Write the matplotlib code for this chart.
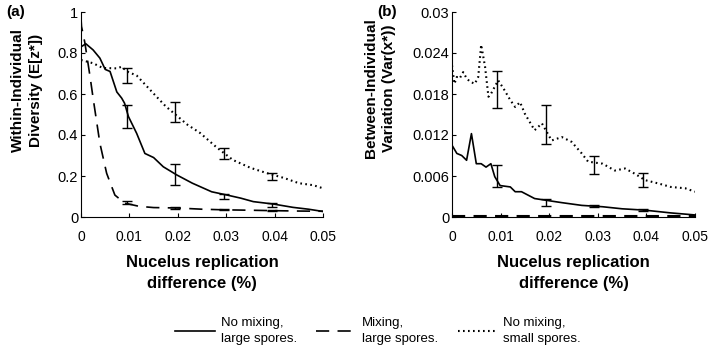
import matplotlib
matplotlib.use('Agg')
import matplotlib.pyplot as plt
from matplotlib.lines import Line2D

plt.rcParams['font.family'] = ['Liberation Sans', 'DejaVu Sans']
plt.rcParams['lines.scale_dashes'] = False

# panel (a) - within-individual diversity
xa_solid = [0, 0.001, 0.0025, 0.0039, 0.005, 0.006, 0.0067, 0.0074, 0.0084, 0.009, 0.0098,
            0.0115, 0.0132, 0.015, 0.017, 0.0198, 0.023, 0.027, 0.03, 0.033, 0.0356,
            0.0398, 0.0438, 0.047, 0.05]
ya_solid = [0.83, 0.845, 0.815, 0.775, 0.72, 0.71, 0.66, 0.61, 0.58, 0.555, 0.49,
            0.408, 0.31, 0.29, 0.245, 0.205, 0.165, 0.123, 0.108, 0.092, 0.075,
            0.063, 0.047, 0.038, 0.027]
xa_dash = [0, 0.0001, 0.0008, 0.0019, 0.0025, 0.0039, 0.0053, 0.007, 0.009, 0.012, 0.015,
           0.0198, 0.025, 0.0295, 0.035, 0.0395, 0.045, 0.05]
ya_dash = [0.97, 0.93, 0.85, 0.68, 0.58, 0.36, 0.213, 0.107, 0.068, 0.052, 0.046,
           0.044, 0.038, 0.035, 0.033, 0.031, 0.029, 0.028]
xa_dot = [0, 0.0025, 0.0045, 0.0074, 0.0084, 0.0095, 0.0115, 0.0135, 0.0156, 0.0175,
          0.0195, 0.022, 0.0246, 0.028, 0.0314, 0.035, 0.0384, 0.042, 0.045, 0.048, 0.05]
ya_dot = [0.766, 0.75, 0.727, 0.725, 0.733, 0.71, 0.69, 0.64, 0.587, 0.54,
          0.5, 0.45, 0.41, 0.34, 0.278, 0.24, 0.214, 0.19, 0.165, 0.155, 0.14]

xa_err = [0.0095, 0.0195, 0.0295, 0.0395]
ya_solid_err = [0.49, 0.2065, 0.099, 0.06]
ea_solid_err = [0.058, 0.05, 0.013, 0.01]
ya_dash_err = [0.07, 0.045, 0.036, 0.031]
ea_dash_err = [0.007, 0.004, 0.003, 0.003]
ya_dot_err = [0.69, 0.512, 0.31, 0.198]
ea_dot_err = [0.038, 0.05, 0.029, 0.018]

# panel (b) - between-individual variation
xb_solid = [0, 0.001, 0.002, 0.003, 0.004, 0.005, 0.006, 0.007, 0.008, 0.0088, 0.0099,
            0.012, 0.013, 0.0143, 0.017, 0.0198, 0.0226, 0.0267, 0.031, 0.035, 0.0397,
            0.045, 0.05]
yb_solid = [0.0105, 0.0093, 0.009, 0.0083, 0.0122, 0.0078, 0.0078, 0.0073, 0.0078, 0.0059,
            0.0046, 0.0044, 0.0037, 0.0037, 0.0027, 0.0024, 0.0021, 0.0017, 0.0015, 0.0012,
            0.001, 0.0006, 0.0003]
xb_dash = [0, 0.01, 0.02, 0.03, 0.04, 0.05]
yb_dash = [0.0001, 0.0001, 0.0001, 0.0001, 0.0001, 0.0001]
xb_dot = [0, 0.0005, 0.001, 0.0016, 0.0023, 0.003, 0.0037, 0.0047, 0.0054, 0.006, 0.0068,
          0.0075, 0.008, 0.0095, 0.0106, 0.012, 0.013, 0.014, 0.015, 0.017, 0.0185,
          0.0205, 0.0226, 0.0246, 0.0267, 0.028, 0.031, 0.0335, 0.0356, 0.0377, 0.0397,
          0.0425, 0.045, 0.048, 0.05]
yb_dot = [0.0222, 0.0195, 0.0205, 0.0203, 0.0212, 0.0203, 0.0198, 0.0195, 0.0205, 0.0252, 0.022,
          0.0176, 0.018, 0.02, 0.0188, 0.0171, 0.0161, 0.0168, 0.0151, 0.0127, 0.0137,
          0.0112, 0.0117, 0.011, 0.0093, 0.0081, 0.0078, 0.0068, 0.0071, 0.0063, 0.0054,
          0.0049, 0.0044, 0.0042, 0.0037]

xb_err = [0.0093, 0.0193, 0.0293, 0.0394]
yb_solid_err = [0.006, 0.00215, 0.00155, 0.001]
eb_solid_err = [0.0016, 0.00055, 0.00015, 0.0001]
yb_dot_err = [0.0186, 0.01355, 0.0076, 0.0054]
eb_dot_err = [0.0027, 0.00285, 0.0013, 0.001]

x_ticks = [0, 0.01, 0.02, 0.03, 0.04, 0.05]
x_labels = ['0', '0.01', '0.02', '0.03', '0.04', '0.05']
ya_ticks = [0, 0.2, 0.4, 0.6, 0.8, 1]
ya_labels = ['0', '0.2', '0.4', '0.6', '0.8', '1']
yb_ticks = [0, 0.006, 0.012, 0.018, 0.024, 0.03]
yb_labels = ['0', '0.006', '0.012', '0.018', '0.024', '0.03']

legend_labels = ['No mixing,\nlarge spores.', 'Mixing,\nlarge spores.', 'No mixing,\nsmall spores.']

W, H = 709, 348
fig = plt.figure(figsize=(W / 100, H / 100), dpi=100)

dash_style = (9.5, 6)
dot_style = (1.2, 2.4)
lw = 1.2


def style_axes(ax, yticks, ylabels):
    ax.set_xlim(0, 0.05)
    ax.set_ylim(yticks[0], yticks[-1])
    for s in ['top', 'right']:
        ax.spines[s].set_visible(False)
    for s in ['left', 'bottom']:
        ax.spines[s].set_linewidth(0.8)
    ax.set_xticks(x_ticks)
    ax.set_xticklabels(x_labels, fontsize=10)
    ax.set_yticks(yticks)
    ax.set_yticklabels(ylabels, fontsize=10.5)
    ax.tick_params(axis='both', direction='in', length=3, width=0.8)
    ax.tick_params(axis='x', pad=9)
    ax.tick_params(axis='y', pad=2)
    ax.set_xlabel('Nucelus replication\ndifference (%)', fontsize=12, fontweight='bold',
                  labelpad=8, linespacing=1.5)


def draw_err(ax, x, y, e):
    ax.errorbar(x, y, yerr=e, fmt='none', ecolor='black', elinewidth=1.0,
                capsize=3.5, capthick=1.0)


ax1 = fig.add_axes([81 / W, 1 - 217 / H, 242 / W, 205 / H])
ax1.plot(xa_solid, ya_solid, color='black', lw=lw)
ax1.plot(xa_dash, ya_dash, color='black', lw=lw, dashes=dash_style)
ax1.plot(xa_dot, ya_dot, color='black', lw=lw + 0.3, dashes=dot_style)
draw_err(ax1, xa_err, ya_solid_err, ea_solid_err)
draw_err(ax1, xa_err, ya_dash_err, ea_dash_err)
draw_err(ax1, xa_err, ya_dot_err, ea_dot_err)
style_axes(ax1, ya_ticks, ya_labels)

ax2 = fig.add_axes([452 / W, 1 - 217 / H, 243 / W, 205 / H])
ax2.plot(xb_solid, yb_solid, color='black', lw=lw)
ax2.plot(xb_dash, yb_dash, color='black', lw=lw + 0.3, dashes=dash_style)
ax2.plot(xb_dot, yb_dot, color='black', lw=lw + 0.3, dashes=dot_style)
draw_err(ax2, xb_err, yb_solid_err, eb_solid_err)
draw_err(ax2, xb_err, yb_dot_err, eb_dot_err)
style_axes(ax2, yb_ticks, yb_labels)

fig.text(27 / W, 1 - 90 / H, 'Within-Individual\nDiversity (E[z*])', rotation=90,
         ha='center', va='center', fontsize=11, fontweight='bold', linespacing=1.3)
fig.text(380 / W, 1 - 88 / H, 'Between-Individual\nVariation (Var(x*))', rotation=90,
         ha='center', va='center', fontsize=11, fontweight='bold', linespacing=1.3)
fig.text(16 / W, 1 - 12 / H, '(a)', ha='center', va='center', fontsize=11, fontweight='bold')
fig.text(387 / W, 1 - 12 / H, '(b)', ha='center', va='center', fontsize=11, fontweight='bold')

handles = [Line2D([], [], color='black', lw=lw),
           Line2D([], [], color='black', lw=lw, dashes=dash_style),
           Line2D([], [], color='black', lw=lw + 0.3, dashes=dot_style)]
leg = fig.legend(handles, legend_labels, ncol=3, loc='center',
                 bbox_to_anchor=(378 / W, 1 - 331 / H), frameon=False, fontsize=9.5,
                 handlelength=3.0, handletextpad=0.45, columnspacing=1.5, borderaxespad=0)
for t in leg.get_texts():
    t.set_linespacing(1.5)

fig.savefig('out.png', dpi=100)
